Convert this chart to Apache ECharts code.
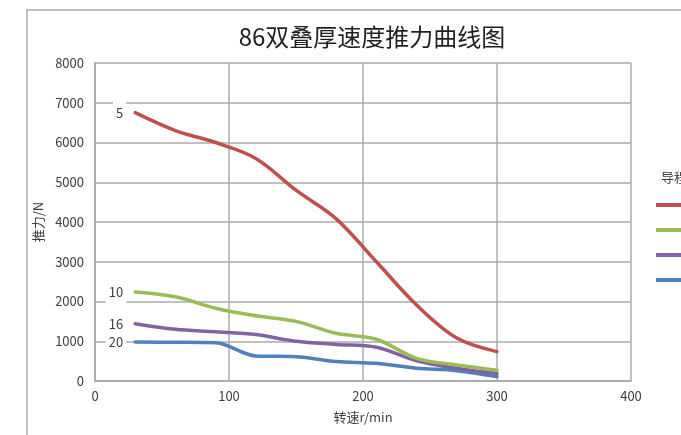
<!DOCTYPE html>
<html>
<head>
<meta charset="utf-8">
<script src="https://cdn.jsdelivr.net/npm/echarts@6/dist/echarts.min.js"></script>
<style>
html,body{margin:0;padding:0;background:#fff;}
#chart{width:681px;height:435px;}
</style>
</head>
<body>
<div id="chart"></div>
<script>
const speeds = [30, 60, 90, 120, 150, 180, 210, 240, 270, 300];
const lead5  = [6750, 6300, 6000, 5600, 4800, 4080, 3000, 1910, 1080, 740];
const lead10 = [2240, 2120, 1830, 1640, 1500, 1200, 1050, 570, 400, 270];
const lead16 = [1440, 1300, 1240, 1170, 1000, 920, 850, 510, 320, 190];
const lead20 = [980, 975, 960, 630, 610, 490, 445, 320, 260, 110];
const seriesNames = ['5', '10', '16', '20'];
const seriesValues = [lead5, lead10, lead16, lead20];
const colors = ['#c0504d', '#9bbb59', '#8064a2', '#4f81bd'];
const yTicks = [0, 1000, 2000, 3000, 4000, 5000, 6000, 7000, 8000];
const xTicks = [0, 100, 200, 300, 400];

const FONT = '"Noto Sans CJK SC", "Noto Sans", sans-serif';
const chart = echarts.init(document.getElementById('chart'), null, {renderer: 'canvas'});

const series = seriesValues.map((vals, s) => ({
  name: seriesNames[s],
  type: 'line',
  smooth: 0.35,
  symbol: 'circle',
  symbolSize: 0,
  showSymbol: true,
  lineStyle: {width: 3.5, color: colors[s], cap: 'round'},
  itemStyle: {color: colors[s]},
  z: 10 - s,
  data: speeds.map((x, i) => i === 0 ? {
    value: [x, vals[i]],
    label: {
      show: true, position: 'left', distance: 9,
      formatter: seriesNames[s],
      color: '#404040', fontSize: 13, fontFamily: FONT,
      backgroundColor: '#ffffff', padding: [5, 3, 5, 3]
    }
  } : [x, vals[i]])
}));

chart.setOption({
  animation: false,
  backgroundColor: '#ffffff',
  textStyle: {fontFamily: FONT},
  title: [
    {text: '86双叠厚速度推力曲线图', left: 367, top: 20, textAlign: 'center',
     textStyle: {fontSize: 24, fontWeight: 'normal', color: '#1f1f1f', fontFamily: FONT}},
    {text: '导程', left: 656, top: 166,
     textStyle: {fontSize: 13, fontWeight: 'normal', color: '#404040', fontFamily: FONT}}
  ],
  graphic: [{
    type: 'rect', shape: {x: 27, y: 10, width: 720, height: 480},
    style: {fill: null, stroke: '#c0c0c0', lineWidth: 2}, silent: true, z: -10
  }],
  legend: {
    orient: 'vertical', left: 651, top: 194,
    itemWidth: 30, itemHeight: 4, itemGap: 13, icon: 'rect',
    data: seriesNames,
    textStyle: {fontSize: 12, color: '#404040', fontFamily: FONT}
  },
  grid: {left: 95, right: 50, top: 63, bottom: 54, containLabel: false},
  xAxis: {
    type: 'value', min: xTicks[0], max: xTicks[xTicks.length - 1], interval: 100,
    name: '转速r/min', nameLocation: 'middle', nameGap: 30,
    nameTextStyle: {fontSize: 13, color: '#404040', fontFamily: FONT},
    axisLine: {show: true, lineStyle: {color: '#a6a6a6', width: 1.5}},
    axisTick: {show: false},
    axisLabel: {fontSize: 13, color: '#404040', margin: 9, fontFamily: FONT,
                formatter: v => String(v)},
    splitLine: {show: true, lineStyle: {color: '#ababab', width: 1.5}}
  },
  yAxis: {
    type: 'value', min: yTicks[0], max: yTicks[yTicks.length - 1], interval: 1000,
    name: '推力/N', nameLocation: 'middle', nameGap: 48, nameRotate: 90,
    nameTextStyle: {fontSize: 13, color: '#404040', fontFamily: FONT},
    axisLine: {show: true, lineStyle: {color: '#a6a6a6', width: 1.5}},
    axisTick: {show: false},
    axisLabel: {fontSize: 13, color: '#404040', margin: 11, fontFamily: FONT,
                formatter: v => String(v)},
    splitLine: {show: true, lineStyle: {color: '#ababab', width: 1.5}}
  },
  series: series
});
</script>
</body>
</html>
